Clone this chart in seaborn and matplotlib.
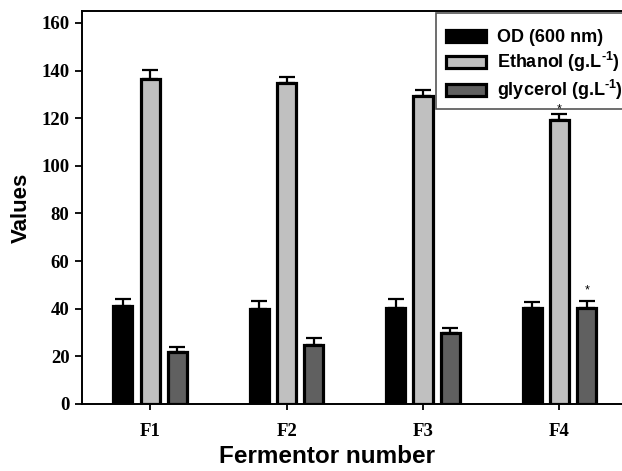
import numpy as np
import pandas as pd
import matplotlib
matplotlib.use("Agg")
import matplotlib.pyplot as plt
from matplotlib.patches import Rectangle
import seaborn as sns

fermentors = ["F1", "F2", "F3", "F4"]
series = ["OD (600 nm)", "Ethanol (g.L$^{\\text{-1}}$)", "glycerol (g.L$^{\\text{-1}}$)"]
od_values = [41.3, 39.9, 40.5, 40.5]
od_err = [2.8, 3.2, 3.5, 2.4]
ethanol_values = [136.5, 134.7, 129.4, 119.3]
ethanol_err = [3.8, 2.4, 2.5, 2.5]
glycerol_values = [22.0, 24.8, 29.8, 40.2]
glycerol_err = [2.1, 3.1, 2.3, 2.9]
y_ticks = [0, 20, 40, 60, 80, 100, 120, 140, 160]
colors = ["#000000", "#c0c0c0", "#606060"]
star_gap = {1: -0.6, 2: 2.2}  # gap above the error bar (data units) for the "*" on F4

values = [od_values, ethanol_values, glycerol_values]
errors = [od_err, ethanol_err, glycerol_err]
rows = []
for s, vals in zip(series, values):
    for f, v in zip(fermentors, vals):
        rows.append({"Fermentor": f, "Series": s, "Value": v})
df = pd.DataFrame(rows)

sns.set_style("ticks")
plt.rcParams["mathtext.fontset"] = "custom"
plt.rcParams["mathtext.rm"] = "Liberation Sans:bold"
plt.rcParams["mathtext.it"] = "Liberation Sans:bold"
plt.rcParams["mathtext.bf"] = "Liberation Sans:bold"
plt.rcParams["mathtext.default"] = "rm"
for k in ["text.color", "axes.labelcolor", "xtick.color", "ytick.color", "axes.edgecolor"]:
    plt.rcParams[k] = "black"

fig = plt.figure(figsize=(6.22, 4.71), dpi=100)
W, H = 622, 471
left, right, top, bottom = 82, 627.6, 11, 404
ax = fig.add_axes([left / W, 1 - bottom / H, (right - left) / W, (bottom - top) / H])

sns.barplot(data=df, x="Fermentor", y="Value", hue="Series", order=fermentors,
            hue_order=series, palette=colors, width=0.6, gap=0.3,
            edgecolor="black", linewidth=2.3, errorbar=None, ax=ax, legend=True)

# error bars (upper only) from the bar patches
for i, (s, errs) in enumerate(zip(series, errors)):
    cont = ax.containers[i]
    xs = [p.get_x() + p.get_width() / 2 for p in cont.patches]
    ys = [p.get_height() for p in cont.patches]
    ax.errorbar(xs, ys, yerr=[[0] * len(errs), errs], fmt="none", ecolor="black",
                elinewidth=1.6, capsize=5.6, capthick=1.6, zorder=1)
    if i in star_gap:
        p = cont.patches[3]
        ax.text(p.get_x() + p.get_width() / 2, ys[3] + errs[3] + star_gap[i], "*",
                ha="center", va="bottom", fontsize=9, color="black",
                family="Liberation Sans", zorder=10)

ax.set_xlim(-0.5, 3.5)
ax.set_ylim(0, 165)
ax.set_yticks(y_ticks)
ax.set_yticklabels([str(t) for t in y_ticks])
for lab in ax.get_xticklabels() + ax.get_yticklabels():
    lab.set_fontfamily("Liberation Serif")
    lab.set_fontweight("bold")
    lab.set_fontsize(13.5)
ax.tick_params(axis="y", direction="out", length=5, width=1.3, pad=4, colors="black")
ax.tick_params(axis="x", direction="out", length=4, width=1.3, pad=10, colors="black")
ax.set_xlabel("Fermentor number", fontsize=17.5, fontweight="bold",
              family="Liberation Sans", labelpad=4)
ax.xaxis.set_label_coords((327 - left) / (right - left), -0.105)
ax.set_ylabel("Values", fontsize=16, fontweight="bold",
              family="Liberation Sans", labelpad=7)
for sp in ["left", "bottom", "top", "right"]:
    ax.spines[sp].set_visible(True)
    ax.spines[sp].set_color("black")
    ax.spines[sp].set_linewidth(1.4)

handles, labels = ax.get_legend_handles_labels()
leg = ax.legend(handles, labels, loc="upper left",
                bbox_to_anchor=(446 / W, 1 - 29 / H), bbox_transform=fig.transFigure,
                frameon=False,
                prop={"family": "Liberation Sans", "weight": "bold", "size": 13},
                handlelength=2.2, handleheight=0.65, handletextpad=0.6,
                labelspacing=0.22, borderpad=0, borderaxespad=0)
leg.set_zorder(6)

fig.canvas.draw()
bb = leg.get_window_extent()
frame_top = H - 13
pad_l, pad_r, pad_b = 10, 3, 7
frame = Rectangle(((bb.x0 - pad_l) / W, (bb.y0 - pad_b) / H),
                  (bb.width + pad_l + pad_r) / W, (frame_top - bb.y0 + pad_b) / H,
                  transform=fig.transFigure, facecolor="white", edgecolor="#555555",
                  linewidth=1.2, clip_on=False, zorder=5)
ax.add_patch(frame)

fig.savefig("out.png", dpi=100)
